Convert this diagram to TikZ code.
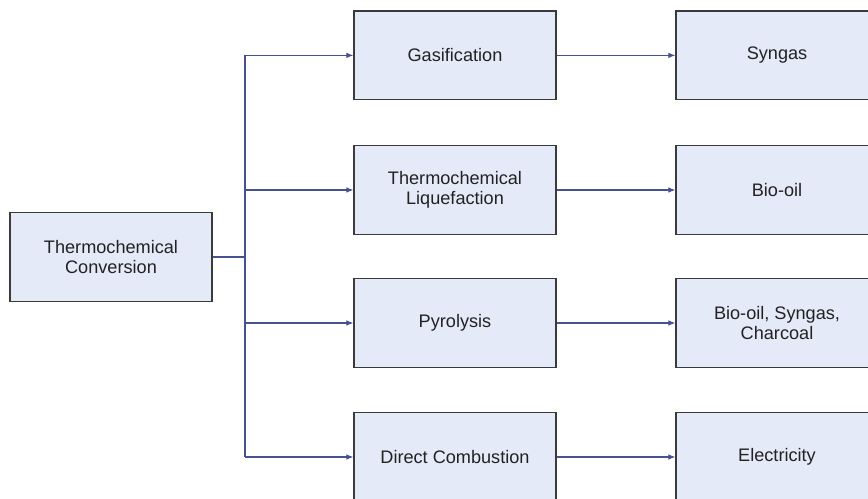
\documentclass[tikz,border=0pt]{standalone}
\usepackage{fontspec}
\setmainfont{Liberation Sans}
\usetikzlibrary{arrows.meta,positioning,calc}
\definecolor{tcfill}{HTML}{E4EAF8}
\definecolor{tcedge}{HTML}{3A3A3A}
\definecolor{tclink}{HTML}{45528F}
\definecolor{tcink}{HTML}{222222}

\begin{document}
\begin{tikzpicture}[
  font=\fontsize{12.9}{14.5}\selectfont,
  stagebox/.style={draw=tcedge, fill=tcfill, line width=0.9pt, minimum width=5.05cm, minimum height=2.22cm, align=center, text=tcink},
  link/.style={draw=tclink, line width=0.75pt},
  flow/.style={link, -{Latex[length=5pt,width=4pt]}}]
  \clip (0,0) rectangle (21.7,12.475);
  \fill[white] (0,0) rectangle (21.7,12.475);
  % source
  \node[stagebox] (conv) at (2.775,6.05) {Thermochemical\\Conversion};
  % processes
  \node[stagebox] (gas) at (11.375,11.09) {Gasification};
  \node[stagebox] (liq) at (11.375,7.725) {Thermochemical\\Liquefaction};
  \node[stagebox] (pyro) at (11.375,4.4) {Pyrolysis};
  \node[stagebox] (comb) at (11.375,1.05) {Direct Combustion};
  % products
  \node[stagebox] (syn) at (19.425,11.09) {Syngas};
  \node[stagebox] (oil) at (19.425,7.725) {Bio-oil};
  \node[stagebox] (mix) at (19.425,4.4) {Bio-oil, Syngas,\\Charcoal};
  \node[stagebox] (elec) at (19.425,1.05) {Electricity};
  % branching
  \coordinate (split) at (6.125,6.05);
  \draw[link] (conv.east) -- (split);
  \draw[link, line width=0.9pt] (split |- gas.west) -- (split |- comb.west);
  \draw[flow] (split |- gas.west) -- (gas.west);
  \draw[flow] (split |- liq.west) -- (liq.west);
  \draw[flow] (split |- pyro.west) -- (pyro.west);
  \draw[flow] (split |- comb.west) -- (comb.west);
  \draw[flow] (gas) -- (syn);
  \draw[flow] (liq) -- (oil);
  \draw[flow] (pyro) -- (mix);
  \draw[flow] (comb) -- (elec);
\end{tikzpicture}
\end{document}
